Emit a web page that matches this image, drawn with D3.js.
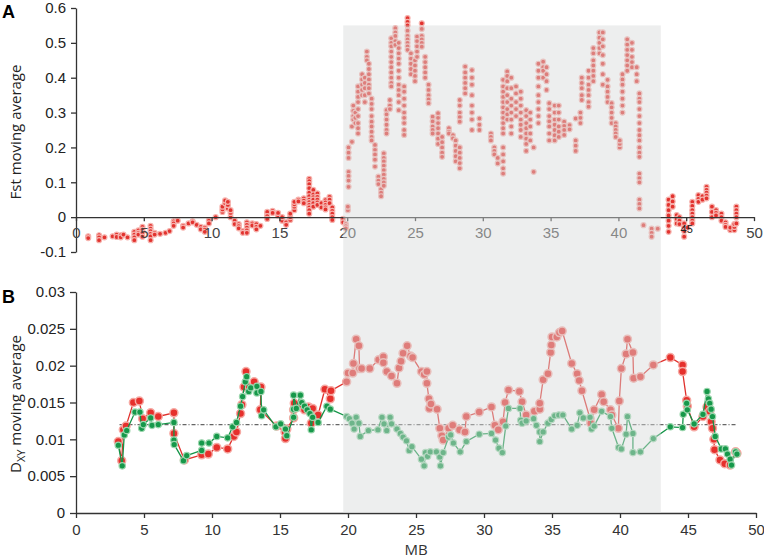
<!DOCTYPE html>
<html>
<head>
<meta charset="utf-8">
<script src="https://cdn.jsdelivr.net/npm/d3@7"></script>
<style>
  body { margin: 0; background: #fff; }
  svg { font-family: "Open Sans", "DejaVu Sans", sans-serif; }
</style>
</head>
<body>
<svg id="chart" width="764" height="560"></svg>
<script>
// Fst moving average, one entry per position (MB) with the values stacked there
var fstColumns = [
  [0.9, [-0.055, -0.06]], [1.7, [-0.052, -0.058, -0.066]], [2.1, [-0.058]], [2.7, [-0.055]],
  [3.0, [-0.05, -0.057]], [3.3, [-0.052, -0.058]], [3.5, [-0.05]], [3.8, [-0.058]],
  [4.3, [-0.042, -0.05, -0.058, -0.066]], [4.6, [-0.038, -0.045, -0.05]], [4.9, [-0.028, -0.036, -0.045, -0.056]],
  [5.5, [-0.025, -0.033, -0.04, -0.048, -0.055, -0.066]], [5.8, [-0.045, -0.05]], [6.2, [-0.048]], [6.6, [-0.045]],
  [6.9, [-0.04]], [7.2, [-0.012, -0.018, -0.025]], [7.5, [-0.01]], [7.9, [-0.025, -0.03]], [8.3, [-0.018]],
  [8.6, [-0.012, -0.015]], [8.9, [-0.022]], [9.2, [-0.028, -0.035]], [9.5, [-0.03, -0.036, -0.042]],
  [9.8, [-0.01, -0.018]], [10.3, [0.0]], [10.8, [0.015, 0.022, 0.03]], [11.0, [0.04, 0.048]],
  [11.2, [0.025, 0.035, 0.044]], [11.4, [0.0, 0.012, 0.02]], [11.7, [-0.01, -0.02]],
  [12.0, [-0.02, -0.026, -0.032]], [12.3, [-0.04, -0.045]], [12.6, [-0.015, -0.022, -0.03, -0.038, -0.045]],
  [13.0, [-0.018, -0.024]], [13.3, [-0.02, -0.028, -0.035]], [13.6, [-0.025]], [14.1, [0.01, 0.015, 0.003, -0.005]],
  [14.5, [0.018, 0.012]], [14.9, [0.005, 0.012]], [15.2, [-0.01, 0.0]], [15.5, [-0.015, -0.022]],
  [15.8, [-0.008, 0.0, 0.01]], [16.1, [0.02, 0.03, 0.037, 0.044]], [16.4, [0.05, 0.045]], [16.8, [0.054, 0.047, 0.04]],
  [17.2, [0.11, 0.103, 0.095, 0.083, 0.07, 0.06, 0.05, 0.043, 0.035, 0.028, 0.02, 0.01]], [17.5, [0.078, 0.065, 0.057, 0.05, 0.04, 0.03]],
  [17.8, [0.068, 0.058, 0.05, 0.042, 0.035]], [18.1, [0.04, 0.028]], [18.4, [0.049, 0.042, 0.035, 0.028, 0.022]],
  [18.7, [0.058, 0.05, 0.04]], [18.9, [0.028, 0.018, 0.01, 0.0, -0.008]], [19.7, [-0.005, -0.015]], [19.9, [-0.02, -0.026, -0.032]],
  [20.05, [0.02, 0.03]], [20.1, [0.2, 0.185, 0.17, 0.13, 0.118, 0.105, 0.087]], [20.35, [0.26, 0.216]],
  [20.45, [0.32, 0.305, 0.29, 0.28]], [20.6, [0.3, 0.285, 0.27]],
  [20.8, [0.375, 0.36, 0.345, 0.33, 0.31, 0.29, 0.27, 0.255, 0.24]], [21.1, [0.41, 0.395, 0.38, 0.365, 0.35]],
  [21.3, [0.4, 0.385, 0.37, 0.35, 0.33]], [21.45, [0.475, 0.46, 0.45]], [21.6, [0.44, 0.425, 0.41, 0.395, 0.38, 0.37, 0.355]],
  [21.8, [0.34, 0.325, 0.31, 0.29, 0.274, 0.26, 0.245, 0.23, 0.22]], [22.05, [0.207, 0.193, 0.18, 0.165, 0.145]],
  [22.3, [0.116, 0.105, 0.095]], [22.5, [0.08, 0.07, 0.06]],
  [22.7, [0.183, 0.17, 0.16, 0.148, 0.135, 0.122, 0.11, 0.1, 0.09]], [22.9, [0.307, 0.295, 0.28, 0.265, 0.25, 0.24]],
  [23.15, [0.336, 0.32, 0.31]], [23.25, [0.513, 0.5, 0.49, 0.475, 0.46, 0.445, 0.43, 0.415, 0.4, 0.385, 0.375]],
  [23.55, [0.542, 0.53, 0.52, 0.505, 0.494]],
  [23.8, [0.5, 0.485, 0.47, 0.455, 0.44, 0.42, 0.4, 0.38, 0.365, 0.35, 0.33, 0.307]],
  [24.2, [0.375, 0.36, 0.34, 0.32, 0.3, 0.285, 0.27, 0.25, 0.236]],
  [24.45, [0.571, 0.56, 0.55, 0.535, 0.52, 0.51, 0.5, 0.49, 0.48]], [24.7, [0.47, 0.455, 0.44, 0.425, 0.41]],
  [25.0, [0.45, 0.435, 0.42, 0.405, 0.39]], [25.15, [0.518, 0.505, 0.49, 0.475, 0.46]],
  [25.5, [0.556, 0.54, 0.52, 0.51, 0.5, 0.489]], [25.75, [0.46, 0.445, 0.43, 0.415, 0.4]],
  [26.0, [0.38, 0.365, 0.35, 0.338, 0.327]], [26.3, [0.288, 0.275, 0.26, 0.25, 0.24]],
  [26.7, [0.298, 0.285, 0.27, 0.255, 0.24, 0.225, 0.21]], [27.0, [0.23, 0.215, 0.2, 0.185, 0.173]],
  [27.5, [0.255, 0.245, 0.24]], [27.8, [0.235, 0.226]], [28.0, [0.22, 0.205, 0.19, 0.175, 0.16]],
  [28.3, [0.336, 0.32, 0.3, 0.287, 0.274, 0.2, 0.185, 0.17, 0.155, 0.14]], [28.7, [0.432, 0.415, 0.4, 0.385, 0.37, 0.355]],
  [29.2, [0.422, 0.4, 0.38, 0.35, 0.32, 0.3, 0.28, 0.25]], [29.75, [0.283, 0.265, 0.25]], [30.6, [0.24, 0.23, 0.22]],
  [30.85, [0.2, 0.19, 0.18]], [31.1, [0.17, 0.154]],
  [31.5, [0.394, 0.375, 0.36, 0.345, 0.33, 0.315, 0.3, 0.285, 0.27, 0.255, 0.24, 0.2, 0.18, 0.16, 0.14, 0.125]],
  [31.8, [0.418, 0.405, 0.39, 0.37, 0.35, 0.33, 0.31, 0.295, 0.28]], [32.1, [0.4, 0.37, 0.34, 0.32, 0.3, 0.28, 0.26, 0.24]],
  [32.45, [0.375, 0.355, 0.33, 0.31, 0.29]], [32.8, [0.36, 0.34, 0.32, 0.3, 0.28, 0.265, 0.25, 0.23]],
  [33.2, [0.307, 0.29, 0.27, 0.255, 0.24, 0.225, 0.21, 0.19]], [33.5, [0.3, 0.28, 0.26, 0.24, 0.22]],
  [33.75, [0.2, 0.13]], [34.1, [0.44, 0.42, 0.4, 0.375, 0.35, 0.33, 0.31, 0.29, 0.27]], [34.45, [0.446, 0.43, 0.42, 0.4]],
  [34.7, [0.43, 0.41, 0.39, 0.365]], [34.9, [0.327, 0.31, 0.29, 0.275, 0.26, 0.24, 0.22]],
  [35.3, [0.32, 0.3, 0.28, 0.265, 0.25, 0.235, 0.22]], [35.6, [0.32, 0.3, 0.28, 0.26, 0.245, 0.23]],
  [36.0, [0.274, 0.262, 0.25, 0.236]], [36.4, [0.264, 0.252]], [36.85, [0.283, 0.22, 0.205, 0.19]],
  [37.2, [0.3, 0.285, 0.27]], [37.3, [0.4, 0.385, 0.37, 0.35, 0.336]], [37.8, [0.42, 0.4, 0.38, 0.365, 0.35, 0.33, 0.317]],
  [38.15, [0.485, 0.47, 0.45, 0.435, 0.42, 0.405, 0.39]], [38.6, [0.53, 0.515, 0.5, 0.485, 0.47]],
  [38.85, [0.53, 0.51, 0.49, 0.465, 0.44, 0.41, 0.38]], [39.2, [0.394, 0.375, 0.36, 0.345, 0.33]],
  [39.5, [0.327, 0.315, 0.3, 0.285, 0.27]], [39.8, [0.27, 0.26, 0.25, 0.24, 0.23]], [40.1, [0.2, 0.21, 0.22]],
  [40.3, [0.41, 0.395, 0.38, 0.36, 0.34, 0.32, 0.3]], [40.65, [0.51, 0.495, 0.48, 0.465, 0.45, 0.435, 0.42]],
  [41.0, [0.5, 0.48, 0.46, 0.445, 0.43]], [41.35, [0.43, 0.41, 0.39]],
  [41.55, [0.355, 0.34, 0.33, 0.31, 0.29, 0.27, 0.25, 0.235, 0.22, 0.2, 0.185, 0.173, 0.125, 0.112, 0.1, 0.05, 0.038, 0.025]],
  [41.85, [-0.023]], [42.45, [-0.033, -0.045, -0.056]], [42.9, [-0.033]], [43.7, [0.05, 0.035, 0.02, 0.005, -0.01, -0.025, -0.042]],
  [44.0, [0.06, 0.045, 0.03]], [44.3, [0.006, -0.006, -0.018]], [44.5, [0.0, -0.01, -0.02]], [44.85, [-0.018, -0.03, -0.04, -0.056]],
  [45.1, [-0.03]], [45.45, [0.044, 0.032, 0.02, 0.01, 0.0, -0.01, -0.018]], [45.9, [0.063, 0.052, 0.044]], [46.2, [0.06, 0.05]],
  [46.5, [0.087, 0.078, 0.07, 0.062, 0.054]], [46.9, [0.03, 0.015, 0.0]], [47.2, [0.02, 0.012, 0.005]], [47.6, [0.01, 0.0, -0.01]],
  [47.9, [-0.015, -0.022, -0.028]], [48.25, [-0.037, -0.03]], [48.55, [-0.037, -0.028, -0.02]], [48.7, [0.03, 0.02, 0.01, 0.0, -0.018]]
];

// DXY moving average, [MB, value]
var dxyRed = [
  [3.11, 0.0097], [3.36, 0.0071], [3.48, 0.0113], [3.68, 0.0118], [4.22, 0.0150], [4.66, 0.0152],
  [4.9, 0.0128], [5.49, 0.0136], [6.05, 0.0131], [7.2, 0.0136], [7.2, 0.0108], [7.97, 0.0072],
  [9.24, 0.0079], [9.73, 0.0080], [10.35, 0.0089], [11.15, 0.0087], [11.6, 0.0104], [11.8, 0.0110],
  [12.1, 0.0135], [12.2, 0.0147], [12.35, 0.0171], [12.5, 0.0192], [12.75, 0.0171], [13.1, 0.0178],
  [13.6, 0.0171], [13.55, 0.0140], [14.75, 0.0118], [15.37, 0.0110], [15.4, 0.0101], [15.5, 0.0114],
  [16.0, 0.0129], [16.0, 0.0140], [16.05, 0.0149], [16.5, 0.0144], [16.8, 0.0140], [17.1, 0.0144],
  [17.3, 0.0122], [17.4, 0.0142], [17.8, 0.0133], [18.3, 0.0168], [18.7, 0.0155], [18.75, 0.0166],
  [19.9, 0.0178], [20.0, 0.0190], [20.35, 0.0190], [20.4, 0.0203], [20.6, 0.0236], [20.8, 0.0227],
  [20.85, 0.0196], [21.0, 0.0196], [21.6, 0.0196], [22.25, 0.0208], [22.6, 0.0212], [22.6, 0.0204],
  [22.85, 0.0192], [23.2, 0.0186], [23.6, 0.0176], [23.75, 0.0197], [23.9, 0.0206], [24.05, 0.0217],
  [24.35, 0.0227], [24.6, 0.0213], [24.75, 0.0211], [25.4, 0.0192], [25.6, 0.0188], [25.8, 0.0192],
  [25.8, 0.0176], [25.95, 0.0155], [25.98, 0.0142], [26.1, 0.0148], [26.55, 0.0141], [26.75, 0.0115],
  [26.9, 0.0105], [27.0, 0.0099], [27.4, 0.0115], [27.7, 0.0119], [28.2, 0.0113], [28.6, 0.0110],
  [28.7, 0.0131], [29.65, 0.0137], [30.55, 0.0144], [30.8, 0.0119], [31.05, 0.0113], [31.4, 0.0124],
  [31.55, 0.0150], [31.8, 0.0167], [32.6, 0.0165], [32.8, 0.0151], [33.1, 0.0133], [33.7, 0.0138],
  [34.1, 0.0141], [34.1, 0.0149], [34.35, 0.0181], [34.7, 0.0189], [34.9, 0.0218], [34.95, 0.0228],
  [35.0, 0.0239], [35.35, 0.0239], [35.55, 0.0245], [35.75, 0.0247], [36.45, 0.0203], [36.85, 0.0189],
  [37.0, 0.0180], [37.2, 0.0166], [37.8, 0.0128], [37.85, 0.0122], [38.1, 0.0140], [38.65, 0.0161],
  [38.8, 0.0151], [39.3, 0.0140], [39.4, 0.0133], [39.88, 0.0115], [39.95, 0.0152], [40.1, 0.0196],
  [40.45, 0.0216], [40.55, 0.0236], [40.95, 0.0218], [41.0, 0.0183], [41.5, 0.0185], [42.45, 0.0201],
  [43.7, 0.0211], [44.6, 0.0201], [44.6, 0.0192], [44.9, 0.0153], [44.95, 0.0145], [45.45, 0.0117],
  [46.1, 0.0131], [46.4, 0.0144], [46.6, 0.0138], [46.7, 0.0124], [46.8, 0.0115], [46.9, 0.0100],
  [46.95, 0.0086], [47.35, 0.0072], [47.7, 0.0067], [48.1, 0.0065], [48.5, 0.0083], [48.6, 0.0081]
];
var dxyGreen = [
  [3.11, 0.0092], [3.4, 0.0064], [3.55, 0.0106], [3.73, 0.0112], [4.34, 0.0137], [4.7, 0.0137],
  [4.83, 0.0115], [4.95, 0.0120], [5.49, 0.0129], [5.59, 0.0119], [6.05, 0.0120], [7.2, 0.0123],
  [7.2, 0.0099], [7.22, 0.0093], [7.9, 0.0071], [8.14, 0.0078], [9.24, 0.0085], [9.24, 0.0095],
  [9.78, 0.0095], [10.35, 0.0104], [11.15, 0.0102], [11.52, 0.0117], [11.8, 0.0123], [12.1, 0.0145],
  [12.25, 0.0158], [12.45, 0.0178], [12.55, 0.0185], [12.7, 0.0165], [12.85, 0.0170], [13.3, 0.0172],
  [13.3, 0.0163], [13.6, 0.0165], [13.65, 0.0132], [13.8, 0.0140], [14.7, 0.0117], [15.05, 0.0121],
  [15.4, 0.0114], [15.5, 0.0105], [16.0, 0.0130], [16.0, 0.0141], [16.0, 0.0160], [16.2, 0.0142],
  [16.5, 0.0160], [16.6, 0.0150], [16.8, 0.0145], [17.0, 0.0140], [17.2, 0.0135], [17.3, 0.0113],
  [17.4, 0.0130], [17.8, 0.0123], [18.45, 0.0145], [18.7, 0.0141], [19.9, 0.0131], [20.1, 0.0128],
  [20.3, 0.0122], [20.45, 0.0114], [20.6, 0.0130], [20.8, 0.0122], [20.9, 0.0104], [21.5, 0.0112],
  [22.2, 0.0113], [22.5, 0.0130], [22.65, 0.0121], [22.85, 0.0112], [23.1, 0.0130], [23.2, 0.0121],
  [23.6, 0.0114], [23.85, 0.0108], [24.05, 0.0103], [24.3, 0.0098], [24.5, 0.0085], [24.7, 0.0090],
  [25.4, 0.0073], [25.6, 0.0064], [25.7, 0.0082], [25.85, 0.0077], [26.05, 0.0083], [26.5, 0.0083],
  [26.75, 0.0076], [26.8, 0.0064], [27.0, 0.0082], [27.4, 0.0103], [27.55, 0.0106], [27.75, 0.0095],
  [28.25, 0.0083], [28.7, 0.0097], [29.65, 0.0107], [30.55, 0.0108], [30.85, 0.0099], [31.1, 0.0088],
  [31.35, 0.0082], [31.6, 0.0118], [31.8, 0.0142], [32.65, 0.0142], [32.7, 0.0126], [32.8, 0.0122],
  [33.1, 0.0125], [33.65, 0.0128], [33.85, 0.0119], [34.1, 0.0110], [34.1, 0.0097], [34.35, 0.0110],
  [34.7, 0.0122], [34.95, 0.0127], [35.2, 0.0132], [35.5, 0.0133], [35.8, 0.0133], [36.45, 0.0114],
  [36.85, 0.0119], [37.05, 0.0136], [37.3, 0.0129], [37.8, 0.0130], [37.9, 0.0114], [38.1, 0.0118],
  [38.65, 0.0138], [39.3, 0.0131], [39.4, 0.0115], [39.9, 0.0089], [40.1, 0.0087], [40.45, 0.0107],
  [40.55, 0.0131], [40.95, 0.0108], [40.95, 0.0082], [41.5, 0.0083], [42.45, 0.0101], [43.7, 0.0117],
  [44.6, 0.0116], [44.65, 0.0134], [44.9, 0.0149], [44.95, 0.0140], [45.45, 0.0121], [46.1, 0.0134],
  [46.4, 0.0165], [46.5, 0.0155], [46.6, 0.0149], [46.7, 0.0141], [46.8, 0.0131], [47.0, 0.0104],
  [47.45, 0.0087], [47.75, 0.0087], [47.9, 0.0080], [48.1, 0.0073], [48.2, 0.0065], [48.5, 0.0083],
  [48.6, 0.0080]
];

// genome-wide mean DXY (dashed line) and the shaded region, in MB
var dxyMean = [3.2, 48.5, 0.012];
var shadedRegion = [19.65, 43.0];

// tick values
var mbTicks = [0, 5, 10, 15, 20, 25, 30, 35, 40, 45, 50];
var fstTicks = [-0.1, 0, 0.1, 0.2, 0.3, 0.4, 0.5, 0.6];
var dxyTicks = [0, 0.005, 0.01, 0.015, 0.02, 0.025, 0.03];

var svg = d3.select("#chart");

// Scales
var xA = d3.scaleLinear().domain([0, 50]).range([76, 754]);
var yA = d3.scaleLinear().domain([-0.1, 0.6]).range([252, 8]);
var xB = d3.scaleLinear().domain([0, 50]).range([76, 756]);
var yB = d3.scaleLinear().domain([0, 0.03]).range([513, 292]);

function numFmt(d) { return String(+d.toFixed(3)); }

function styleAxis(g, color) {
  g.selectAll("path, line").attr("stroke", "#333").attr("stroke-width", 1.3);
  g.selectAll("text").attr("font-size", 15).attr("fill", color);
}

// ---- Panel A ----
svg.append("g")
  .attr("transform", "translate(76,0)")
  .call(d3.axisLeft(yA).tickValues(fstTicks).tickSize(5).tickSizeOuter(0).tickPadding(5).tickFormat(numFmt))
  .call(styleAxis, "#222");

var axA = svg.append("g")
  .attr("transform", "translate(0," + yA(0) + ")")
  .call(d3.axisBottom(xA).tickValues(mbTicks).tickSize(4).tickSizeOuter(0).tickPadding(6).tickFormat(d3.format("d")))
  .call(styleAxis, "#444");

var fstPoints = [];
fstColumns.forEach(function(c) {
  c[1].forEach(function(v) { fstPoints.push([c[0], v]); });
});

svg.append("g").selectAll("circle")
  .data(fstPoints)
  .enter()
  .append("circle")
  .attr("cx", function(d) { return xA(d[0]); })
  .attr("cy", function(d) { return yA(d[1]); })
  .attr("r", 2.5)
  .attr("fill", "#e2332f")
  .attr("stroke", "#f6b3ae")
  .attr("stroke-width", 1.2);

// the small "45" sits on top of the points in the original
axA.raise();
axA.selectAll(".tick text").filter(function(d) { return d !== 45; }).lower();
axA.selectAll(".tick text").filter(function(d) { return d === 45; })
  .attr("font-size", 11).attr("dy", "0.5em").attr("fill", "#222");

// ---- Panel B ----
svg.append("g")
  .attr("transform", "translate(76,0)")
  .call(d3.axisLeft(yB).tickValues(dxyTicks).tickSize(6).tickSizeOuter(0).tickPadding(5).tickFormat(numFmt))
  .call(styleAxis, "#222");

svg.append("g")
  .attr("transform", "translate(0," + yB(0) + ")")
  .call(d3.axisBottom(xB).tickValues(mbTicks).tickSize(5).tickSizeOuter(0).tickPadding(6).tickFormat(d3.format("d")))
  .call(styleAxis, "#333");

svg.append("line")
  .attr("x1", xB(dxyMean[0])).attr("x2", xB(dxyMean[1]))
  .attr("y1", yB(dxyMean[2])).attr("y2", yB(dxyMean[2]))
  .attr("stroke", "#666")
  .attr("stroke-width", 1.2)
  .attr("stroke-dasharray", "4,2,1,2");

var line = d3.line()
  .x(function(d) { return xB(d[0]); })
  .y(function(d) { return yB(d[1]); });

svg.append("path").datum(dxyRed)
  .attr("d", line).attr("fill", "none").attr("stroke", "#e0302c").attr("stroke-width", 1.3);
svg.append("g").selectAll("circle")
  .data(dxyRed).enter().append("circle")
  .attr("cx", function(d) { return xB(d[0]); })
  .attr("cy", function(d) { return yB(d[1]); })
  .attr("r", 4)
  .attr("fill", "#e6302c")
  .attr("stroke", "#f6aaa4")
  .attr("stroke-width", 1.5);

svg.append("path").datum(dxyGreen)
  .attr("d", line).attr("fill", "none").attr("stroke", "#139447").attr("stroke-width", 1.3);
svg.append("g").selectAll("circle")
  .data(dxyGreen).enter().append("circle")
  .attr("cx", function(d) { return xB(d[0]); })
  .attr("cy", function(d) { return yB(d[1]); })
  .attr("r", 3.2)
  .attr("fill", "#16984a")
  .attr("stroke", "#9bd6ad")
  .attr("stroke-width", 1.2);

// shaded region, drawn on top so it washes out what lies under it
svg.append("rect")
  .attr("x", xB(shadedRegion[0]))
  .attr("width", xB(shadedRegion[1]) - xB(shadedRegion[0]))
  .attr("y", yA(0.55))
  .attr("height", yB(0) - yA(0.55))
  .attr("fill", "#d6dada")
  .attr("opacity", 0.45);

// Titles and labels
svg.append("text").attr("x", 2).attr("y", 18)
  .attr("font-family", "Liberation Sans, Arial, sans-serif").attr("font-weight", "bold").attr("font-size", 18)
  .text("A");
svg.append("text").attr("x", 2).attr("y", 303)
  .attr("font-family", "Liberation Sans, Arial, sans-serif").attr("font-weight", "bold").attr("font-size", 18)
  .text("B");

svg.append("text")
  .attr("transform", "translate(21,132) rotate(-90)")
  .attr("text-anchor", "middle").attr("font-size", 15).attr("fill", "#222")
  .text("Fst moving average");

var dxyTitle = svg.append("text")
  .attr("transform", "translate(21,404) rotate(-90)")
  .attr("text-anchor", "middle").attr("font-size", 15).attr("fill", "#222");
dxyTitle.append("tspan").text("D");
dxyTitle.append("tspan").attr("font-size", 11).attr("dy", 4).text("XY");
dxyTitle.append("tspan").attr("dy", -4).text(" moving average");

svg.append("text")
  .attr("x", xB(25)).attr("y", 555)
  .attr("text-anchor", "middle").attr("font-size", 15).attr("fill", "#333")
  .text("MB");
</script>
</body>
</html>
